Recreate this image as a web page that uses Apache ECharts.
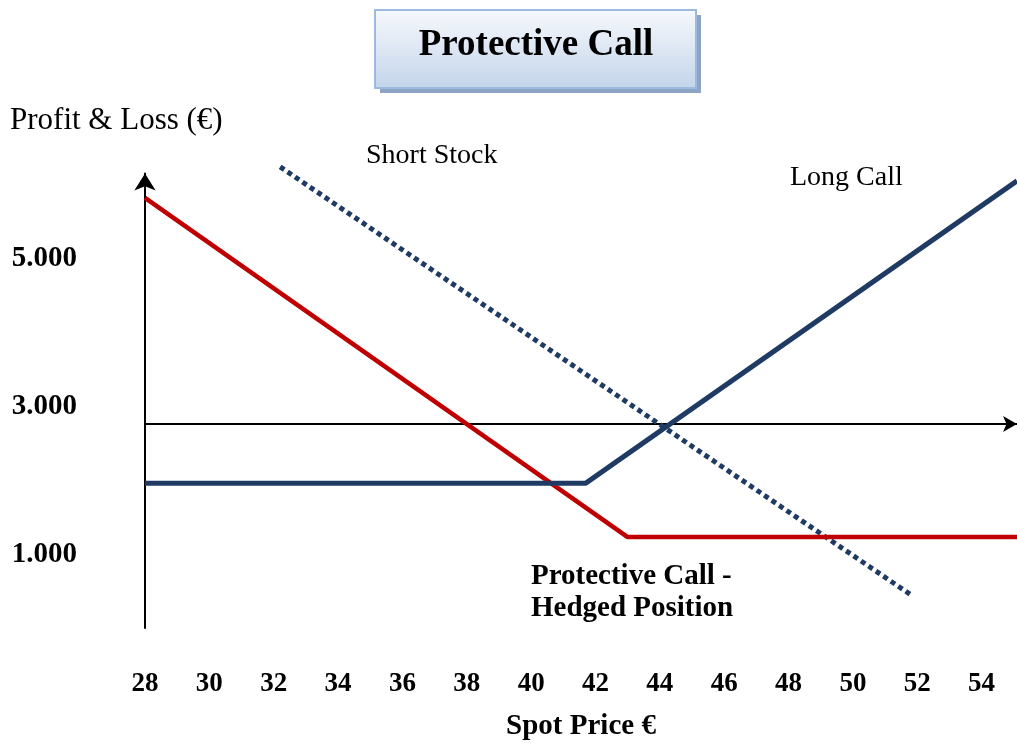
<!DOCTYPE html>
<html>
<head>
<meta charset="utf-8">
<title>Protective Call</title>
<script src="https://cdn.jsdelivr.net/npm/echarts@6/dist/echarts.min.js"></script>
<style>
  html, body { margin: 0; padding: 0; background: #fff; }
  #chart { width: 1017px; height: 744px; }
</style>
</head>
<body>
<div id="chart"></div>
<script>
// payoff lines, [spot price, P&L]
const longCall = [[28, 1960], [41.7, 1960], [55.1, 6050]];
const protectiveCall = [[28, 5820], [43, 1230], [55.1, 1230]];
const shortStock = [[32.2, 6240], [51.8, 450]];
const baseLine = 2760; // level of the horizontal arrow axis
const yTickLabels = [1000, 3000, 5000];

const serif = "'Liberation Serif', 'Times New Roman', serif";
const navy = "#1f3b63";
const red = "#c00000";

const chart = echarts.init(document.getElementById("chart"));

const option = {
  animation: false,
  grid: { left: 145, right: 0, top: 173.5, bottom: 116, outerBoundsMode: "none" },
  xAxis: {
    type: "value",
    min: 28,
    max: 55.1,
    interval: 2,
    name: "Spot Price €",
    nameLocation: "middle",
    nameGap: 84,
    nameTextStyle: { fontFamily: serif, fontSize: 29, fontWeight: "bold", color: "#000" },
    axisLine: { show: false },
    axisTick: { show: false },
    splitLine: { show: false },
    axisLabel: {
      margin: 43,
      fontFamily: serif,
      fontSize: 27,
      fontWeight: "bold",
      color: "#000",
      showMaxLabel: false,
      formatter: (v) => (Number.isInteger(v) ? String(v) : ""),
    },
  },
  yAxis: {
    type: "value",
    min: 0,
    max: 6150,
    interval: 1000,
    axisLine: {
      show: true,
      symbol: ["none", "arrow"],
      symbolSize: [16, 17],
      lineStyle: { color: "#000", width: 2 },
    },
    axisTick: { show: false },
    splitLine: { show: false },
    axisLabel: {
      margin: 68,
      fontFamily: serif,
      fontSize: 29,
      fontWeight: "bold",
      color: "#000",
      showMaxLabel: false,
      formatter: (v) =>
        yTickLabels.includes(v) ? String(v / 1000) + ".000" : "",
    },
  },
  graphic: [
    // title box
    { type: "rect", shape: { x: 380, y: 15, width: 321, height: 78 }, style: { fill: "#8da4c4" }, z: 10 },
    {
      type: "rect",
      shape: { x: 375, y: 10, width: 321, height: 78 },
      style: {
        fill: new echarts.graphic.LinearGradient(0, 0, 0, 1, [
          { offset: 0, color: "#f7f9fc" },
          { offset: 1, color: "#c3d4ea" },
        ]),
        stroke: "#9cbade",
        lineWidth: 2,
      },
      z: 11,
    },
    {
      type: "text",
      x: 536, y: 45, z: 12,
      style: {
        text: "Protective Call",
        font: "bold 37px " + serif,
        fill: "#000",
        align: "center",
        verticalAlign: "middle",
      },
    },
    {
      type: "text", x: 10, y: 121,
      style: { text: "Profit & Loss (€)", font: "31px " + serif, fill: "#000", verticalAlign: "middle" },
    },
    {
      type: "text", x: 366, y: 156,
      style: { text: "Short Stock", font: "28px " + serif, fill: "#000", verticalAlign: "middle" },
    },
    {
      type: "text", x: 790, y: 178,
      style: { text: "Long Call", font: "28px " + serif, fill: "#000", verticalAlign: "middle" },
    },
    {
      type: "text", x: 531, y: 561,
      style: {
        text: "Protective Call -\nHedged Position",
        font: "bold 29px " + serif,
        lineHeight: 32,
        fill: "#000",
        verticalAlign: "top",
      },
    },
  ],
  series: [
    {
      name: "Short Stock",
      type: "line",
      data: shortStock,
      symbol: "none",
      clip: false,
      lineStyle: { color: navy, width: 5, type: [5, 4] },
      z: 2,
    },
    {
      name: "Protective Call",
      type: "line",
      data: protectiveCall,
      symbol: "none",
      clip: false,
      lineStyle: { color: red, width: 4.5 },
      z: 3,
    },
    {
      name: "Long Call",
      type: "line",
      data: longCall,
      symbol: "none",
      clip: false,
      lineStyle: { color: navy, width: 5 },
      z: 4,
      markLine: {
        silent: true,
        symbol: ["none", "arrow"],
        symbolSize: [12, 14],
        label: { show: false },
        lineStyle: { color: "#000", width: 2, type: "solid" },
        data: [{ yAxis: baseLine }],
        z: 1,
      },
    },
  ],
};

chart.setOption(option);
</script>
</body>
</html>
